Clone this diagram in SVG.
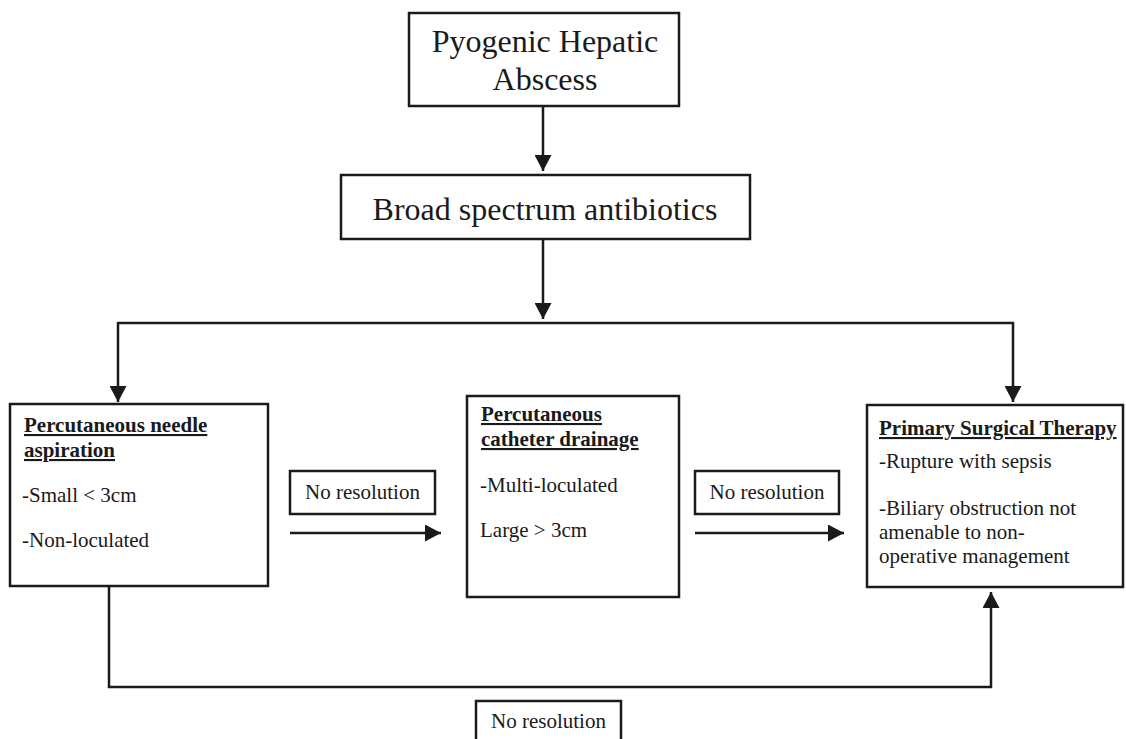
<svg xmlns="http://www.w3.org/2000/svg" width="1126" height="739" viewBox="0 0 1126 739">
  <style>
    .box { fill: #fff; stroke: #1a1a1a; stroke-width: 2.5; }
    .lbl { fill: #fff; stroke: #1a1a1a; stroke-width: 2.5; }
    .wire { fill: none; stroke: #1a1a1a; stroke-width: 2.5; }
    text { font-family: "Liberation Serif", "Times New Roman", serif; fill: #1a1a1a; }
    .big { font-size: 32px; text-anchor: middle; }
    .body { font-size: 21px; }
    .head { font-size: 21px; font-weight: bold; text-decoration: underline; }
    .mid { text-anchor: middle; }
  </style>
  <defs>
    <marker id="arrow" markerWidth="16" markerHeight="17" refX="16" refY="8.5" orient="auto" markerUnits="userSpaceOnUse">
      <path d="M0,0 L16,8.5 L0,17 Z" fill="#1a1a1a"/>
    </marker>
  </defs>

  <!-- connectors -->
  <g id="connectors">
    <line class="wire" x1="543" y1="106" x2="543" y2="171" marker-end="url(#arrow)"/>
    <line class="wire" x1="543" y1="239" x2="543" y2="319" marker-end="url(#arrow)"/>
    <polyline class="wire" points="118,323 1013,323 1013,402" marker-end="url(#arrow)"/>
    <line class="wire" x1="118" y1="322" x2="118" y2="402" marker-end="url(#arrow)"/>
    <line class="wire" x1="290" y1="533" x2="441" y2="533" marker-end="url(#arrow)"/>
    <line class="wire" x1="695" y1="533" x2="844" y2="533" marker-end="url(#arrow)"/>
    <polyline class="wire" points="109,586 109,687 991,687 991,592" marker-end="url(#arrow)"/>
  </g>

  <g id="abscess">
    <rect class="box" x="409" y="13" width="270" height="93"/>
    <text class="big" x="545" y="52">Pyogenic Hepatic</text>
    <text class="big" x="545" y="90">Abscess</text>
  </g>

  <g id="antibiotics">
    <rect class="box" x="341" y="175" width="409" height="64"/>
    <text class="big" x="545" y="220">Broad spectrum antibiotics</text>
  </g>

  <g id="needle-aspiration">
    <rect class="box" x="10" y="404" width="258" height="182"/>
    <text class="head" x="24" y="432">Percutaneous needle</text>
    <text class="head" x="24" y="457">aspiration</text>
    <text class="body" x="22" y="502">-Small &lt; 3cm</text>
    <text class="body" x="22" y="547">-Non-loculated</text>
  </g>

  <g id="catheter-drainage">
    <rect class="box" x="467" y="396" width="212" height="201"/>
    <text class="head" x="481" y="421">Percutaneous</text>
    <text class="head" x="481" y="446">catheter drainage</text>
    <text class="body" x="480" y="492">-Multi-loculated</text>
    <text class="body" x="480" y="537">Large &gt; 3cm</text>
  </g>

  <g id="surgical-therapy">
    <rect class="box" x="867" y="405" width="256" height="182"/>
    <text class="head" x="879" y="435">Primary Surgical Therapy</text>
    <text class="body" x="879" y="468">-Rupture with sepsis</text>
    <text class="body" x="879" y="515">-Biliary obstruction not</text>
    <text class="body" x="879" y="539">amenable to non-</text>
    <text class="body" x="879" y="563">operative management</text>
  </g>

  <g id="label-1">
    <rect class="lbl" x="290" y="471" width="145" height="43"/>
    <text class="body mid" x="362.5" y="499">No resolution</text>
  </g>

  <g id="label-2">
    <rect class="lbl" x="695" y="471" width="144" height="43"/>
    <text class="body mid" x="767" y="499">No resolution</text>
  </g>

  <g id="label-3">
    <rect class="lbl" x="476" y="701" width="145" height="45"/>
    <text class="body mid" x="548.5" y="728">No resolution</text>
  </g>
</svg>
